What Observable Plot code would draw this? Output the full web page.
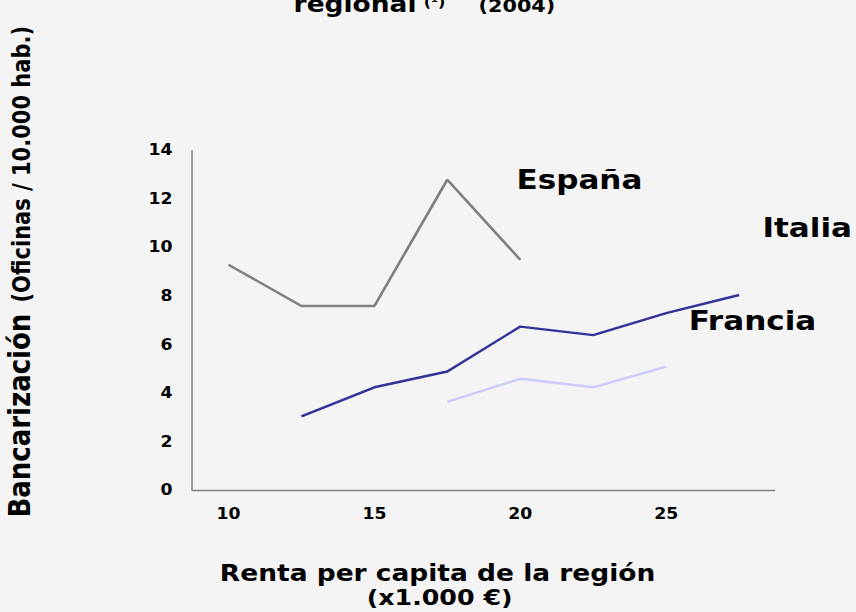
<!DOCTYPE html>
<html>
<head>
<meta charset="utf-8">
<script src="https://cdn.jsdelivr.net/npm/d3@7"></script>
<script src="https://cdn.jsdelivr.net/npm/@observablehq/plot@0.6"></script>
<style>
  html, body { margin: 0; padding: 0; background: #f4f4f4; overflow: hidden; }
  #chart svg { display: block; }
</style>
</head>
<body>
<div id="chart"></div>
<script>
// ---- data ----
const seriesNames = ["España", "Italia", "Francia"];
const seriesColors = ["#808080", "#333399", "#ccccff"];

const espanaRenta = [10, 12.5, 15, 17.5, 20];
const espanaValor = [9.3, 7.6, 7.6, 12.8, 9.5];

const italiaRenta = [12.5, 15, 17.5, 20, 22.5, 25, 27.5];
const italiaValor = [3.05, 4.25, 4.9, 6.75, 6.4, 7.3, 8.05];

const franciaRenta = [17.5, 20, 22.5, 25];
const franciaValor = [3.65, 4.6, 4.25, 5.1];

const xTicks = [10, 15, 20, 25];
const yTicks = [0, 2, 4, 6, 8, 10, 12, 14];

// label anchors for the series names, in data units
const labelRenta = [19.87, 28.3, 25.77];
const labelValor = [12.43, 10.42, 6.59];

// ---- table for Plot ----
const rows = [];
[[espanaRenta, espanaValor], [italiaRenta, italiaValor], [franciaRenta, franciaValor]]
  .forEach(([xs, ys], s) => xs.forEach((x, i) => rows.push({pais: seriesNames[s], renta: x, valor: ys[i]})));

const labels = seriesNames.map((n, i) => ({pais: n, renta: labelRenta[i], valor: labelValor[i]}));

const W = 744, H = 612;
const font = "'DejaVu Sans', Verdana, sans-serif";

const chart = Plot.plot({
  width: W,
  height: H,
  marginLeft: 166.4,
  marginRight: 70.4,
  marginTop: 150,
  marginBottom: 122,
  style: {background: "#f4f4f4", fontFamily: font, fontWeight: "bold", fontSize: "15px", color: "#000", overflow: "visible"},
  x: {domain: [8.75, 28.75]},
  y: {domain: [0, 14]},
  color: {domain: seriesNames, range: seriesColors},
  marks: [
    Plot.axisX({ticks: xTicks, tickSize: 0, tickPadding: 18, label: null, tickFormat: d => String(d), fill: "#000"}),
    Plot.axisY({ticks: yTicks, tickSize: 0, tickPadding: 17, label: null, tickFormat: d => String(d), fill: "#000"}),
    Plot.ruleX([8.75], {stroke: "#808080", strokeWidth: 1.3}),
    Plot.ruleY([0], {stroke: "#808080", strokeWidth: 1.5}),
    Plot.line(rows, {x: "renta", y: "valor", z: "pais", stroke: "pais", strokeWidth: 2.4, strokeLinejoin: "miter", strokeLinecap: "butt"}),
    Plot.text(labels, {x: "renta", y: "valor", text: "pais", textAnchor: "start", lineAnchor: "bottom", fontSize: 27, fontWeight: "bold", fill: "#000"}),
    // x axis title
    Plot.text(["Renta per capita de la región"], {frameAnchor: "bottom", dx: -40.2, dy: 90, lineAnchor: "bottom", fontSize: 23, fontWeight: "bold", fill: "#000"}),
    Plot.text(["(x1.000 €)"], {frameAnchor: "bottom", dx: -38.4, dy: 114, lineAnchor: "bottom", fontSize: 22, fontWeight: "bold", fill: "#000"}),
    // y axis title
    Plot.text(["Bancarización"], {frameAnchor: "left", dx: -141, dy: 197, rotate: -90, textAnchor: "start", lineAnchor: "bottom", fontSize: 26, fontWeight: "bold", fill: "#000"}),
    Plot.text(["(Oficinas / 10.000 hab.)"], {frameAnchor: "left", dx: -141, dy: -18, rotate: -90, textAnchor: "start", lineAnchor: "bottom", fontSize: 21, fontWeight: "bold", fill: "#000"}),
    // title (upper part cut off in the reference)
    Plot.text(["regional"], {frameAnchor: "top-left", dx: 88.3, dy: -138.3, textAnchor: "start", lineAnchor: "bottom", fontSize: 23, fontWeight: "bold", fill: "#000"}),
    Plot.text(["(¹)"], {frameAnchor: "top-left", dx: 201.3, dy: -144, textAnchor: "start", lineAnchor: "bottom", fontSize: 14, fontWeight: "bold", fill: "#000"}),
    Plot.text(["(2004)"], {frameAnchor: "top-left", dx: 249.1, dy: -139, textAnchor: "start", lineAnchor: "bottom", fontSize: 18, fontWeight: "bold", fill: "#000"})
  ]
});

// the reference is stretched horizontally: draw at 744 wide, display at 856
chart.setAttribute("width", 856);
chart.setAttribute("height", 612);
chart.setAttribute("preserveAspectRatio", "none");
chart.style.width = "856px";
chart.style.height = "612px";
chart.style.maxWidth = "none";
document.getElementById("chart").appendChild(chart);
</script>
</body>
</html>
